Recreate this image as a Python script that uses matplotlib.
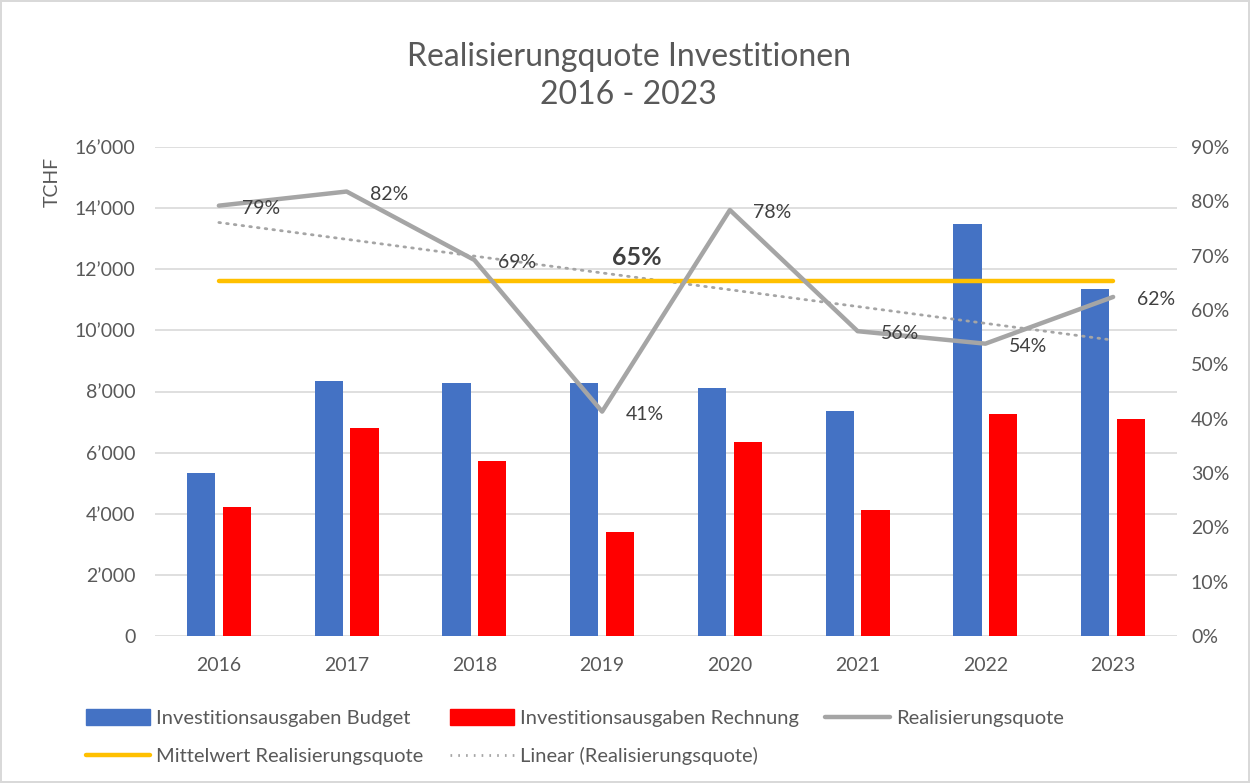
import numpy as np
import matplotlib.pyplot as plt
from matplotlib.lines import Line2D
from matplotlib.patches import Patch
from matplotlib.ticker import FuncFormatter

plt.rcParams['font.family'] = ['Lato', 'DejaVu Sans']

years = ['2016', '2017', '2018', '2019', '2020', '2021', '2022', '2023']
budget = [5330, 8340, 8280, 8290, 8100, 7350, 13480, 11350]
rechnung = [4210, 6810, 5730, 3400, 6340, 4120, 7250, 7090]
quote = [0.792, 0.818, 0.692, 0.413, 0.784, 0.561, 0.538, 0.624]
quote_labels = ['79%', '82%', '69%', '41%', '78%', '56%', '54%', '62%']
mittelwert = 0.653
mittelwert_label = '65%'

blue = '#4472C4'
red = '#FF0000'
gray = '#A5A5A5'
yellow = '#FFC000'
txt = '#595959'

fig = plt.figure(figsize=(12.5, 7.83), dpi=100)
fig.patch.set_edgecolor('#D9D9D9')
fig.patch.set_linewidth(1.5)

ax = fig.add_axes([0.124, 0.1877, 0.8176, 0.6246])
x = np.arange(len(years))
w = 0.22
ax.bar(x - 0.14, budget, w, color=blue, zorder=2)
ax.bar(x + 0.14, rechnung, w, color=red, zorder=2)
ax.set_xlim(-0.5, 7.5)
ax.set_ylim(0, 16000)
ax.set_yticks(np.arange(0, 16001, 2000))
ax.yaxis.set_major_formatter(FuncFormatter(lambda v, p: '0' if v == 0 else f'{int(v):,}'.replace(',', '\u2019')))
ax.set_xticks(x)
ax.set_xticklabels(years)
ax.grid(axis='y', color='#D9D9D9', lw=1.2, zorder=0)
ax.set_axisbelow(True)
for s in ax.spines.values():
    s.set_visible(False)
ax.tick_params(axis='both', length=0, labelsize=14, colors=txt)
ax.tick_params(axis='y', pad=14)
ax.tick_params(axis='x', pad=15)

ax2 = ax.twinx()
ax2.set_ylim(0, 0.9)
ax2.set_yticks(np.arange(0, 0.91, 0.1))
ax2.yaxis.set_major_formatter(FuncFormatter(lambda v, p: f'{v*100:.0f}%'))
for s in ax2.spines.values():
    s.set_visible(False)
ax2.tick_params(axis='y', length=0, labelsize=14, colors=txt, pad=10)

# trend line (linear fit like Excel)
k, d = np.polyfit(x, quote, 1)
ax2.plot(x, k * x + d, color=gray, lw=2, ls=(0, (0.6, 2.2)), dash_capstyle='round')
ax2.plot(x, [mittelwert] * len(x), color=yellow, lw=3.2, solid_capstyle='round')
ax2.plot(x, quote, color=gray, lw=3.2, solid_capstyle='round')
for xi, q, lab in zip(x, quote, quote_labels):
    ax2.annotate(lab, (xi, q), xytext=(17, -2), textcoords='offset points',
                 va='center', ha='left', fontsize=14, color='#404040')
ax2.text(3.27, 0.696, mittelwert_label, ha='center', va='center',
         fontsize=18, fontweight='bold', color='#404040')

fig.text(0.503, 0.903, 'Realisierungquote Investitionen\n2016 - 2023', ha='center', va='center',
         fontsize=23, color=txt, linespacing=1.3)
fig.text(0.042, 0.768, 'TCHF', rotation=90, ha='center', va='center', fontsize=14, color=txt)

handles = [Patch(color=blue), Line2D([], [], color=yellow, lw=3.2, solid_capstyle='round'),
           Patch(color=red), Line2D([], [], color=gray, lw=2, ls=(0, (0.6, 2.2))),
           Line2D([], [], color=gray, lw=3.2, solid_capstyle='round')]
labels = ['Investitionsausgaben Budget', 'Mittelwert Realisierungsquote',
          'Investitionsausgaben Rechnung', 'Linear (Realisierungsquote)', 'Realisierungsquote']
leg = fig.legend(handles, labels, ncol=3, loc='upper left', bbox_to_anchor=(0.0605, 0.107),
                 frameon=False, fontsize=14.5, handlelength=3.2, handleheight=0.85,
                 handletextpad=0.3, columnspacing=1.3, labelspacing=1.0, borderpad=0)
for t in leg.get_texts():
    t.set_color(txt)

fig.savefig('out.png', dpi=100)
